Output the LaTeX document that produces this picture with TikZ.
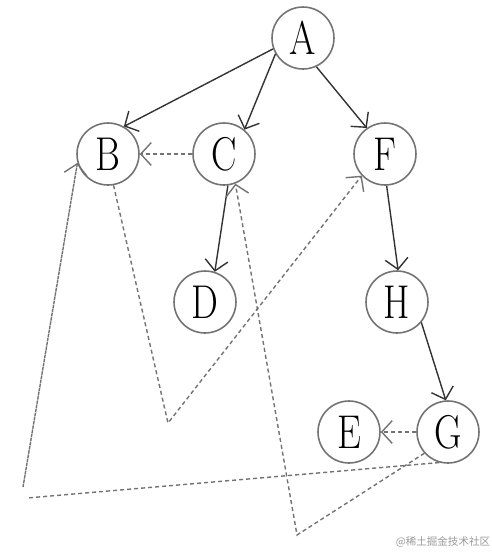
\documentclass[tikz,border=0pt]{standalone}
\usepackage{fontspec}
\usepackage{graphicx}
\usepackage{tikz}
\usetikzlibrary{arrows.meta}
\newfontfamily\cjk{Noto Sans CJK SC}
\newcommand\narrowlbl[1]{\scalebox{0.8}[1]{#1}}

\begin{document}
\begin{tikzpicture}[x=0.02cm,y=-0.02cm,
    vertex/.style={circle,draw=black!55,line width=0.9pt,minimum size=1.24cm,inner sep=0pt,font=\fontsize{27}{27}\selectfont},
    edge/.style={draw=black!80,line width=0.8pt,-{Straight Barb[length=6pt,width=13pt]}},
    thread/.style={draw=black!55,line width=0.8pt,dash pattern=on 2.3pt off 1.7pt,-{Straight Barb[length=6pt,width=13pt]}}]
      \useasboundingbox (0,0) rectangle (492,552);
      \node[vertex](A) at (303,38){\narrowlbl{A}};
      \node[vertex](B) at (108,154){\narrowlbl{B}};
      \node[vertex](C) at (224,154){\narrowlbl{C}};
      \node[vertex](F) at (385,154){\narrowlbl{F}};
      \node[vertex](D) at (205,302){\narrowlbl{D}};
      \node[vertex](H) at (397,302){\narrowlbl{H}};
      \node[vertex](E) at (349,432){\narrowlbl{E}};
      \node[vertex](G) at (448,432){\narrowlbl{G}};
      % tree edges
      \draw[edge] (A.200) -- (B.60);
      \draw[edge] (A.210) -- (C.50);
      \draw[edge] (A.295) -- (F.125);
      \draw[edge] (C.277) -- (D.72);
      \draw[edge] (F.273) -- (H.88);
      \draw[edge] (H.320) -- (G.94);
      % threads
      \coordinate (dlow) at (168,423);
      \coordinate (clow) at (297,535);
      \coordinate (bl1) at (27,498);
      \coordinate (bl2) at (23,487);
      \draw[thread] (C) -- (B);
      \draw[thread] (G) -- (E);
      \draw[thread] (B.280) -- (dlow) -- (F.223);
      \draw[thread] (G.222) -- (clow) -- (C.291);
      \draw[thread,-] (G.254) -- (bl1);
      \draw[thread,dash pattern=on 2pt off 0.4pt] (bl2) -- (B.196);
      \node[text=black!40,font=\cjk\fontsize{6}{6}\selectfont](mark) at (443,542){@稀土掘金技术社区};
    \end{tikzpicture}
\end{document}
